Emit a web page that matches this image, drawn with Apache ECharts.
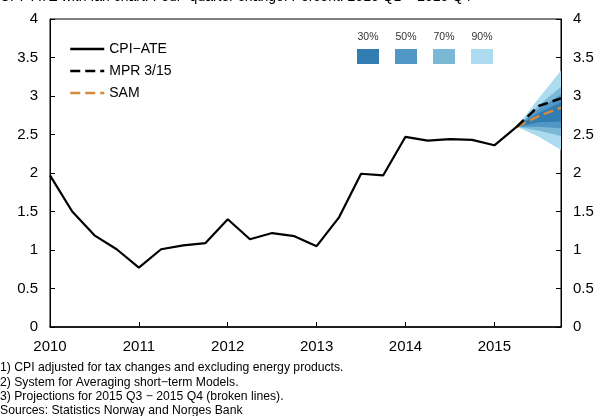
<!DOCTYPE html>
<html>
<head>
<meta charset="utf-8">
<script src="https://cdn.jsdelivr.net/npm/echarts@6/dist/echarts.min.js"></script>
<style>
  html, body { margin: 0; padding: 0; background: #fff; }
  #chart { width: 599px; height: 416px; }
</style>
</head>
<body>
<div id="chart"></div>
<script>
// quarters 2010 Q1 .. 2015 Q4
const quarters = [];
for (let y = 2010; y <= 2015; y++) {
  for (let q = 1; q <= 4; q++) quarters.push(y + ' Q' + q);
}

// CPI-ATE, 2010 Q1 .. 2015 Q2
const cpiAte = [1.97, 1.50, 1.19, 1.01, 0.77, 1.01, 1.06, 1.09, 1.40, 1.14, 1.22, 1.18,
                1.05, 1.42, 1.99, 1.97, 2.47, 2.42, 2.44, 2.43, 2.36, 2.60];

// projections 2015 Q2 .. 2015 Q4
const mpr = [2.60, 2.87, 2.97];
const sam = [2.60, 2.74, 2.85];

// fan chart bands 2015 Q2 .. 2015 Q4
const bandNames = ['90%', '70%', '50%', '30%'];
const bandLower = [
  [2.60, 2.47, 2.30],
  [2.60, 2.55, 2.48],
  [2.60, 2.60, 2.58],
  [2.60, 2.66, 2.67]
];
const bandUpper = [
  [2.60, 2.97, 3.33],
  [2.60, 2.88, 3.12],
  [2.60, 2.83, 3.02],
  [2.60, 2.78, 2.92]
];
const bandColors = ['#addcf0', '#7bb8d6', '#5097c5', '#317db4'];

const footnotes = [
  '1) CPI adjusted for tax changes and excluding energy products.',
  '2) System for Averaging short\u2212term Models.',
  '3) Projections for 2015 Q3 \u2212 2015 Q4 (broken lines).',
  'Sources: Statistics Norway and Norges Bank'
];

const FONT = 'Liberation Sans, Arial, Helvetica, sans-serif';
const projStart = cpiAte.length - 1;

function pad(arr) {
  const out = quarters.map(() => '-');
  arr.forEach((v, i) => { out[projStart + i] = v; });
  return out;
}

const chart = echarts.init(document.getElementById('chart'));

const series = [];
bandNames.forEach((name, b) => {
  series.push({
    name: 'base' + name, type: 'line', stack: 'band' + b, symbol: 'none',
    lineStyle: { opacity: 0 }, data: pad(bandLower[b]), silent: true
  });
  series.push({
    name: 'band' + name, type: 'line', stack: 'band' + b, symbol: 'none',
    lineStyle: { opacity: 0 }, areaStyle: { color: bandColors[b], opacity: 1 },
    data: pad(bandUpper[b].map((u, i) => +(u - bandLower[b][i]).toFixed(3))), silent: true
  });
});
series.push({
  name: 'SAM', type: 'line', symbol: 'none', data: pad(sam),
  lineStyle: { color: '#d48a3c', width: 2.5, type: [10, 5] }, itemStyle: { color: '#d48a3c' }
});
series.push({
  name: 'MPR 3/15', type: 'line', symbol: 'none', data: pad(mpr),
  lineStyle: { color: '#000', width: 2.5, type: [10, 5] }, itemStyle: { color: '#000' }
});
series.push({
  name: 'CPI\u2212ATE', type: 'line', symbol: 'none', data: cpiAte,
  lineStyle: { color: '#000', width: 2.2 }, itemStyle: { color: '#000' }
});

const yAxisBase = {
  type: 'value', min: 0, max: 4, interval: 0.5,
  axisLine: { show: true, lineStyle: { color: '#000', width: 1 } },
  axisTick: { show: true, inside: true, length: 5, lineStyle: { color: '#000' } },
  axisLabel: { color: '#000', fontSize: 15, fontFamily: FONT, margin: 12 },
  splitLine: { show: false }
};

const graphics = [
  {
    type: 'text', left: 0, top: -10,
    style: { text: 'CPI\u2212ATE with fan chart. Four\u2212quarter change. Percent. 2010 Q1 \u2212 2015 Q4',
             font: '14px ' + FONT, fill: '#000' }
  }
];
footnotes.forEach((t, i) => {
  graphics.push({
    type: 'text', left: 0, top: 362 + i * 14.3,
    style: { text: t, font: '12.2px ' + FONT, fill: '#000' }
  });
});
// fan legend
const fanOrder = [3, 2, 1, 0];
fanOrder.forEach((b, i) => {
  const x = 357 + i * 38;
  graphics.push({
    type: 'rect', shape: { x: x, y: 49, width: 22, height: 15 },
    style: { fill: bandColors[b] }
  });
  graphics.push({
    type: 'text', x: x + 11, y: 37,
    style: { text: bandNames[b], font: '10.5px ' + FONT, fill: '#333', align: 'center', verticalAlign: 'middle' }
  });
});

chart.setOption({
  animation: false,
  grid: { left: 50, right: 38, top: 19, bottom: 89, show: true, borderColor: '#000', borderWidth: 1 },
  legend: {
    data: ['CPI\u2212ATE', 'MPR 3/15', 'SAM'],
    orient: 'vertical', left: 64, top: 37,
    itemWidth: 34, itemHeight: 14, itemGap: 8,
    itemStyle: { opacity: 0 },
    lineStyle: { width: 2.5 },
    textStyle: { fontSize: 14, fontFamily: FONT, color: '#000' }
  },
  xAxis: {
    type: 'category', data: quarters, boundaryGap: false,
    axisLine: { lineStyle: { color: '#000', width: 1.5 } },
    axisTick: { inside: true, length: 5, interval: 3, lineStyle: { color: '#000' } },
    axisLabel: {
      interval: 3, color: '#000', fontSize: 15, fontFamily: FONT, margin: 12,
      formatter: v => v.slice(0, 4)
    }
  },
  yAxis: [
    Object.assign({}, yAxisBase, { position: 'left' }),
    Object.assign({}, yAxisBase, { position: 'right' })
  ],
  series: series,
  graphic: graphics
});
</script>
</body>
</html>
